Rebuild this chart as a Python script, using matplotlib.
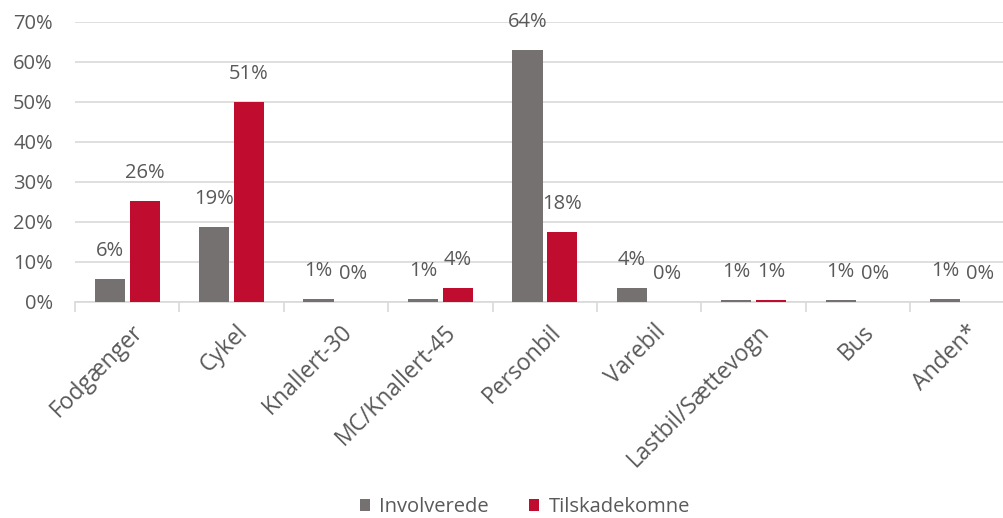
import numpy as np
import matplotlib.pyplot as plt
from matplotlib.transforms import ScaledTranslation

categories = ['Fodgænger', 'Cykel', 'Knallert-30', 'MC/Knallert-45', 'Personbil',
              'Varebil', 'Lastbil/Sættevogn', 'Bus', 'Anden*']
involverede   = [5.8, 18.8, 0.7, 0.8, 63.0, 3.6, 0.6, 0.6, 0.8]
tilskadekomne = [25.3, 50.0, 0.0, 3.5, 17.6, 0.0, 0.6, 0.0, 0.0]
inv_labels = ['6%', '19%', '1%', '1%', '64%', '4%', '1%', '1%', '1%']
til_labels = ['26%', '51%', '0%', '4%', '18%', '0%', '1%', '0%', '0%']

GRAY = '#767171'
RED = '#C00D2F'
TXT = '#595959'
GRID = '#D9D9D9'

plt.rcParams['font.family'] = ['Open Sans', 'DejaVu Sans']

fig = plt.figure(figsize=(10.04, 5.18), dpi=100)
# the category axis runs a little past the right edge of the picture
ax = fig.add_axes([0.0747, 0.417, 0.936, 0.541])

x = np.arange(len(categories))
w = 0.29
b1 = ax.bar(x - 0.167, involverede, w, color=GRAY, label='Involverede', zorder=3)
b2 = ax.bar(x + 0.167, tilskadekomne, w, color=RED, label='Tilskadekomne', zorder=3)

for rects, labs in ((b1, inv_labels), (b2, til_labels)):
    for r, lab in zip(rects, labs):
        ax.annotate(lab, (r.get_x() + r.get_width() / 2, r.get_height()),
                    xytext=(0, 20), textcoords='offset points',
                    ha='center', va='center', fontsize=14.5, color=TXT)

ax.set_xlim(-0.5, len(categories) - 0.5)
ax.set_ylim(0, 70)
ax.set_yticks(np.arange(0, 71, 10))
ax.set_yticklabels([f'{v}%' for v in range(0, 71, 10)])
ax.yaxis.grid(True, color=GRID, linewidth=1.2, zorder=0)
ax.tick_params(axis='y', length=0, labelsize=14.5, labelcolor=TXT, pad=16)

for s in ('top', 'right', 'left'):
    ax.spines[s].set_visible(False)
ax.spines['bottom'].set_color(GRID)
ax.spines['bottom'].set_linewidth(1.2)

ax.set_xticks(np.arange(-0.5, len(categories), 1.0))
ax.set_xticklabels([])
ax.tick_params(axis='x', which='major', length=7, color=GRID, width=1.2)
ax.set_xticks(x, minor=True)
ax.set_xticklabels(categories, minor=True, rotation=45, ha='right',
                   rotation_mode='anchor', fontsize=16.5, color=TXT)
ax.tick_params(axis='x', which='minor', length=0, pad=13)
for lbl in ax.get_xticklabels(minor=True):
    lbl.set_transform(lbl.get_transform() + ScaledTranslation(0.04, 0, fig.dpi_scale_trans))

fig.legend(loc='center', bbox_to_anchor=(0.523, 0.021), ncol=2, frameon=False,
           fontsize=14.5, labelcolor=TXT, handlelength=0.5, handleheight=0.5,
           handletextpad=0.45, columnspacing=2.0)

fig.savefig('out.png', dpi=100)
